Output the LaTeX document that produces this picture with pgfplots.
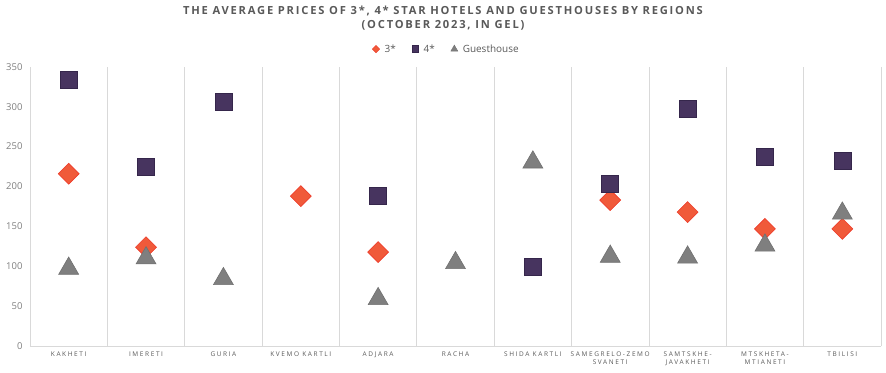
\documentclass[border=0pt]{standalone}
\usepackage{pgfplots}
\pgfplotsset{compat=1.18}
\usepackage{fontspec}
\setmainfont{Open Sans}
\definecolor{c3}{HTML}{F05A3A}
\definecolor{c3e}{HTML}{EE3B2A}
\definecolor{c4}{HTML}{47345F}
\definecolor{c4e}{HTML}{35264B}
\definecolor{cg}{HTML}{7F7F7F}
\definecolor{cge}{HTML}{707070}
\definecolor{txt}{HTML}{595959}
\definecolor{gridc}{HTML}{D9D9D9}
\begin{document}
\begin{tikzpicture}
\useasboundingbox (0,0) rectangle (886bp,373bp);
\node[font=\fontsize{11.2}{13}\selectfont\bfseries\addfontfeature{LetterSpace=16}, text=txt] at (443bp,362.5bp) {THE AVERAGE PRICES OF 3*, 4* STAR HOTELS AND GUESTHOUSES BY REGIONS};
\node[font=\fontsize{11.2}{13}\selectfont\bfseries\addfontfeature{LetterSpace=16}, text=txt] at (443bp,347.5bp) {(OCTOBER 2023, IN GEL)};
\begin{axis}[
  at={(30bp,26.7bp)}, anchor=south west,
  scale only axis, width=851bp, height=279.6bp,
  xmin=-0.5, xmax=10.5, ymin=0, ymax=350,
  xtick={0,...,10},
  xticklabels={KAKHETI,IMERETI,GURIA,KVEMO KARTLI,ADJARA,RACHA,SHIDA KARTLI,{SAMEGRELO-ZEMO\\SVANETI},{SAMTSKHE-\\JAVAKHETI},{MTSKHETA-\\MTIANETI},TBILISI},
  x tick label style={font=\fontsize{6.5}{8.5}\selectfont\addfontfeature{LetterSpace=25}, text=txt, align=center, anchor=north, yshift=-2bp},
  ytick={0,50,...,350},
  y tick label style={font=\fontsize{9.5}{11}\selectfont, text=cg, xshift=-4bp},
  /pgf/number format/assume math mode=true,
  minor xtick={-0.5,0.5,...,10.5},
  xminorgrids, minor grid style={gridc, line width=0.8pt},
  major tick length=0, minor tick length=0,
  axis x line*=bottom, axis y line*=left,
  x axis line style={gridc, line width=1.2pt, -},
  y axis line style={draw=none},
  clip=false,
  legend columns=-1,
  legend style={draw=none, fill=none, at={(0.4894,1.063)}, anchor=center, font=\fontsize{10}{12}\selectfont, text=txt,
    /tikz/every odd column/.append style={column sep=3bp},
    /tikz/every even column/.append style={column sep=14bp}},
]
\addplot[only marks, forget plot, mark=square*, mark size=7.4bp, mark options={fill=c3, draw=c3e, rotate=45, line width=0.6pt}] coordinates {
(0,216) (1,124) (3,188) (4,118) (7,183) (8,168) (9,147) (10,147)};
\addplot[only marks, forget plot, mark=square*, mark size=8.5bp, mark options={fill=c4, draw=c4e, line width=0.6pt}] coordinates {
(0,333) (1,225) (2,306) (4,189) (6,100) (7,204) (8,297) (9,237) (10,232)};
\addplot[only marks, forget plot, mark=triangle*, mark size=11.5bp, mark options={fill=cg, draw=cge, line width=0.6pt, yshift=-2.9bp}] coordinates {
(0,101) (1,114) (2,88) (4,63) (5,108) (6,234) (7,116) (8,115) (9,130) (10,170)};
\addlegendimage{legend image code/.code={\draw[mark=square*, mark size=2.6bp, mark options={fill=c3, draw=c3e, rotate=45}] plot coordinates {(0.1cm,0cm)};}}
\addlegendentry{3*}
\addlegendimage{legend image code/.code={\draw[mark=square*, mark size=3.4bp, mark options={fill=c4, draw=c4e}] plot coordinates {(0.1cm,0cm)};}}
\addlegendentry{4*}
\addlegendimage{legend image code/.code={\draw[mark=triangle*, mark size=4bp, mark options={fill=cg, draw=cge}] plot coordinates {(0.1cm,0cm)};}}
\addlegendentry{Guesthouse}
\end{axis}
\end{tikzpicture}
\end{document}
